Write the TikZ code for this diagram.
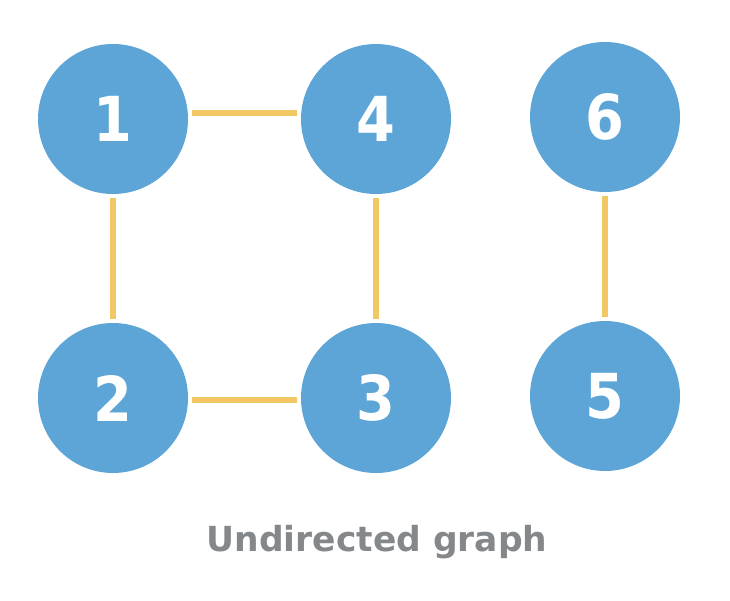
\documentclass[tikz,border=0pt]{standalone}
\usepackage{fontspec}
\newfontfamily\digitfont{DejaVu Sans Condensed}
\newfontfamily\capfont{DejaVu Sans}
\definecolor{vblue}{HTML}{5DA5D6}
\definecolor{eyellow}{HTML}{F2C865}
\definecolor{lgray}{HTML}{85888A}

\begin{document}
\begin{tikzpicture}[x=1pt,y=-1pt,
vertex/.style={circle,fill=vblue,draw=none,minimum size=150pt,inner sep=0pt,
text=white,font=\digitfont\bfseries\fontsize{62}{62}\selectfont},
edge/.style={draw=eyellow,line width=5.5pt,shorten >=4pt,shorten <=4pt}]
\useasboundingbox (0,0) rectangle (730,600);
\node[vertex] (n1) at (113,119) {1};
\node[vertex] (n4) at (376,119) {4};
\node[vertex] (n6) at (605,117) {6};
\node[vertex] (n2) at (113,398) {2};
\node[vertex] (n3) at (376,398) {3};
\node[vertex] (n5) at (605,396) {5};
\path[edge] ([yshift=6pt]n1.east) -- ([yshift=6pt]n4.west);
\path[edge] ([yshift=-2pt]n2.east) -- ([yshift=-2pt]n3.west);
\path[edge] (n1) -- (n2);
\path[edge] (n4) -- (n3);
\path[edge] (n6) -- (n5);
\node[text=lgray,font=\capfont\bfseries\fontsize{34.5}{34.5}\selectfont] (cap) at (377,542) {Undirected graph};
\end{tikzpicture}
\end{document}
